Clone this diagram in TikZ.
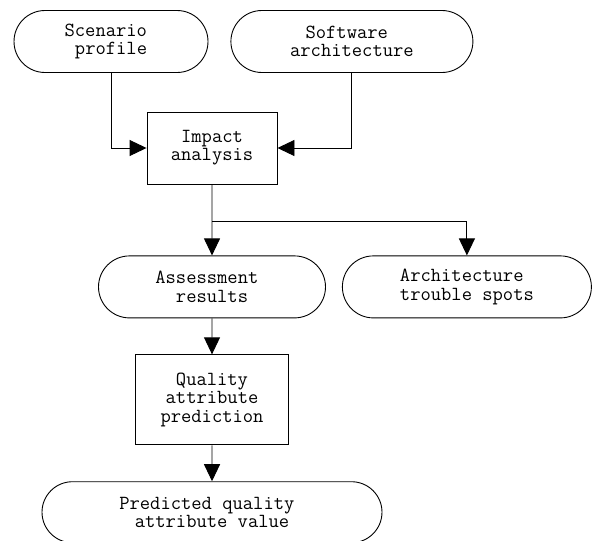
\documentclass[tikz,border=0pt]{standalone}
\usepackage{fontspec}
\usetikzlibrary{arrows.meta, positioning, shapes.misc}

\newcommand{\trail}{\hphantom{x}}

\begin{document}
\begin{tikzpicture}[
    x=1pt, y=1pt,
    font=\ttfamily\fontsize{20}{18.2}\selectfont,
    line width=0.9pt,
    terminal/.style={draw, rounded rectangle, minimum height=62pt, align=center, inner sep=2pt},
    process/.style={draw, rectangle, align=center, inner sep=2pt},
    arrow/.style={-{Triangle[length=17pt, width=16pt]}}
]
\useasboundingbox (0,0) rectangle (598,-541);

% Inputs
\node[terminal, minimum width=198pt] (scenario) at (111,-41.5) {Scenario\trail\\profile};
\node[terminal, minimum width=246pt, right=22pt of scenario] (software) {Software\trail\\architecture};

% Analysis
\node[process, minimum width=130pt, minimum height=72pt] (impact) at (212,-148) {Impact\\analysis};
\coordinate[below=37pt of impact] (split);

% Results
\node[terminal, minimum width=231pt, below=71pt of impact] (assessment) {Assessment\trail\\results};
\node[terminal, minimum width=253pt, right=16pt of assessment] (trouble) {Architecture\trail\\trouble spots};

% Prediction
\node[process, minimum width=153pt, minimum height=90pt, below=36pt of assessment] (quality) {Quality\\attribute\\prediction};
\node[terminal, minimum width=344pt, minimum height=61pt, below=36pt of quality] (predicted) {Predicted quality\trail\\attribute value};

% Arrows
\draw[arrow] (scenario) |- (impact);
\draw[arrow] (software) |- (impact);
\draw[arrow] (impact) -- (assessment);
\draw[arrow] (split) -| (trouble);
\draw[arrow] (assessment) -- (quality);
\draw[arrow] (quality) -- (predicted);
\end{tikzpicture}
\end{document}
